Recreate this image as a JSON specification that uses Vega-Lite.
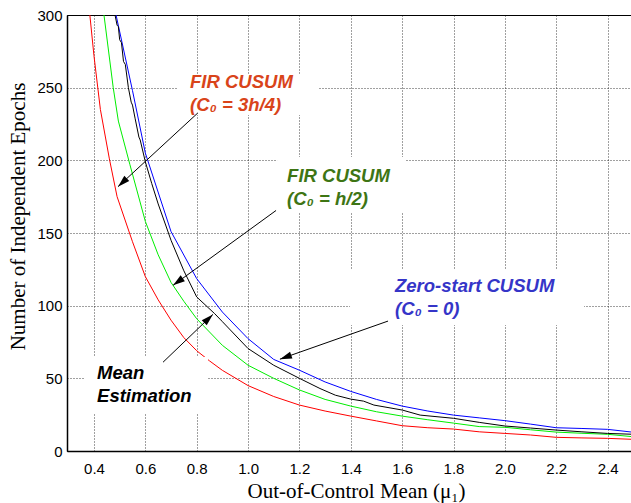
{
  "$schema": "https://vega.github.io/schema/vega-lite/v6.json",
  "autosize": {"type": "none"},
  "padding": {"left": 67, "top": 15, "right": 0, "bottom": 52},
  "width": 564,
  "height": 436,
  "background": "white",
  "config": {
    "view": {"stroke": "#000", "strokeWidth": 1},
    "axis": {
      "grid": true,
      "gridColor": "#000",
      "gridDash": [1, 2],
      "gridOpacity": 0.75,
      "gridWidth": 1,
      "domainColor": "#000",
      "domainWidth": 1.5,
      "ticks": false,
      "labelFont": "Liberation Sans",
      "labelFontSize": 15,
      "labelColor": "#000",
      "titleFont": "Liberation Serif",
      "titleFontSize": 21,
      "titleFontWeight": "normal",
      "titleColor": "#000"
    }
  },
  "datasets": {
    "curves": [
      {"mu": 0.384, "arl": 300, "s": "fir34"},
      {"mu": 0.40, "arl": 272, "s": "fir34"},
      {"mu": 0.425, "arl": 235, "s": "fir34"},
      {"mu": 0.46, "arl": 201, "s": "fir34"},
      {"mu": 0.49, "arl": 175, "s": "fir34"},
      {"mu": 0.55, "arl": 144, "s": "fir34"},
      {"mu": 0.60, "arl": 120, "s": "fir34"},
      {"mu": 0.65, "arl": 104, "s": "fir34"},
      {"mu": 0.70, "arl": 90, "s": "fir34"},
      {"mu": 0.75, "arl": 78, "s": "fir34"},
      {"mu": 0.80, "arl": 69, "s": "fir34"},
      {"mu": 0.85, "arl": 62, "s": "fir34"},
      {"mu": 0.90, "arl": 55.5, "s": "fir34"},
      {"mu": 1.0, "arl": 45, "s": "fir34"},
      {"mu": 1.1, "arl": 37.5, "s": "fir34"},
      {"mu": 1.2, "arl": 31.6, "s": "fir34"},
      {"mu": 1.3, "arl": 27.5, "s": "fir34"},
      {"mu": 1.4, "arl": 24, "s": "fir34"},
      {"mu": 1.5, "arl": 20.7, "s": "fir34"},
      {"mu": 1.6, "arl": 17.4, "s": "fir34"},
      {"mu": 1.7, "arl": 16, "s": "fir34"},
      {"mu": 1.8, "arl": 15.1, "s": "fir34"},
      {"mu": 1.9, "arl": 13.2, "s": "fir34"},
      {"mu": 2.0, "arl": 12.1, "s": "fir34"},
      {"mu": 2.1, "arl": 11, "s": "fir34"},
      {"mu": 2.2, "arl": 9.4, "s": "fir34"},
      {"mu": 2.3, "arl": 9, "s": "fir34"},
      {"mu": 2.4, "arl": 8.7, "s": "fir34"},
      {"mu": 2.5, "arl": 8, "s": "fir34"},

      {"mu": 0.439, "arl": 300, "s": "fir12"},
      {"mu": 0.475, "arl": 250, "s": "fir12"},
      {"mu": 0.495, "arl": 227, "s": "fir12"},
      {"mu": 0.54, "arl": 197, "s": "fir12"},
      {"mu": 0.60, "arl": 158, "s": "fir12"},
      {"mu": 0.65, "arl": 135, "s": "fir12"},
      {"mu": 0.70, "arl": 116, "s": "fir12"},
      {"mu": 0.75, "arl": 103, "s": "fir12"},
      {"mu": 0.80, "arl": 91, "s": "fir12"},
      {"mu": 0.90, "arl": 72.7, "s": "fir12"},
      {"mu": 1.0, "arl": 59, "s": "fir12"},
      {"mu": 1.1, "arl": 50, "s": "fir12"},
      {"mu": 1.2, "arl": 42, "s": "fir12"},
      {"mu": 1.3, "arl": 35.5, "s": "fir12"},
      {"mu": 1.4, "arl": 30.9, "s": "fir12"},
      {"mu": 1.5, "arl": 27, "s": "fir12"},
      {"mu": 1.6, "arl": 24, "s": "fir12"},
      {"mu": 1.7, "arl": 21.5, "s": "fir12"},
      {"mu": 1.8, "arl": 19.2, "s": "fir12"},
      {"mu": 1.9, "arl": 16.8, "s": "fir12"},
      {"mu": 2.0, "arl": 16.3, "s": "fir12"},
      {"mu": 2.1, "arl": 14.6, "s": "fir12"},
      {"mu": 2.2, "arl": 13, "s": "fir12"},
      {"mu": 2.3, "arl": 12.2, "s": "fir12"},
      {"mu": 2.4, "arl": 11.5, "s": "fir12"},
      {"mu": 2.5, "arl": 9.8, "s": "fir12"},

      {"mu": 0.486, "arl": 300, "s": "zero"},
      {"mu": 0.55, "arl": 248, "s": "zero"},
      {"mu": 0.60, "arl": 205, "s": "zero"},
      {"mu": 0.70, "arl": 151, "s": "zero"},
      {"mu": 0.80, "arl": 118.6, "s": "zero"},
      {"mu": 0.90, "arl": 95.6, "s": "zero"},
      {"mu": 1.0, "arl": 77.3, "s": "zero"},
      {"mu": 1.1, "arl": 63, "s": "zero"},
      {"mu": 1.2, "arl": 55.6, "s": "zero"},
      {"mu": 1.3, "arl": 47.5, "s": "zero"},
      {"mu": 1.4, "arl": 41, "s": "zero"},
      {"mu": 1.5, "arl": 35.5, "s": "zero"},
      {"mu": 1.6, "arl": 30.9, "s": "zero"},
      {"mu": 1.7, "arl": 27.5, "s": "zero"},
      {"mu": 1.8, "arl": 24.7, "s": "zero"},
      {"mu": 1.9, "arl": 22.8, "s": "zero"},
      {"mu": 2.0, "arl": 20.9, "s": "zero"},
      {"mu": 2.1, "arl": 18.5, "s": "zero"},
      {"mu": 2.2, "arl": 16, "s": "zero"},
      {"mu": 2.3, "arl": 15.5, "s": "zero"},
      {"mu": 2.4, "arl": 14.9, "s": "zero"},
      {"mu": 2.5, "arl": 12.9, "s": "zero"},

      {"mu": 0.482, "arl": 300, "s": "mean"},
      {"mu": 0.49, "arl": 293, "s": "mean"},
      {"mu": 0.495, "arl": 292, "s": "mean"},
      {"mu": 0.50, "arl": 283, "s": "mean"},
      {"mu": 0.507, "arl": 281, "s": "mean"},
      {"mu": 0.515, "arl": 268, "s": "mean"},
      {"mu": 0.522, "arl": 266, "s": "mean"},
      {"mu": 0.534, "arl": 250, "s": "mean"},
      {"mu": 0.545, "arl": 240, "s": "mean"},
      {"mu": 0.55, "arl": 238, "s": "mean"},
      {"mu": 0.56, "arl": 229, "s": "mean"},
      {"mu": 0.575, "arl": 216, "s": "mean"},
      {"mu": 0.58, "arl": 214, "s": "mean"},
      {"mu": 0.60, "arl": 199, "s": "mean"},
      {"mu": 0.625, "arl": 184, "s": "mean"},
      {"mu": 0.65, "arl": 170, "s": "mean"},
      {"mu": 0.70, "arl": 145, "s": "mean"},
      {"mu": 0.75, "arl": 124, "s": "mean"},
      {"mu": 0.80, "arl": 106, "s": "mean"},
      {"mu": 0.87, "arl": 94.5, "s": "mean"},
      {"mu": 0.90, "arl": 89, "s": "mean"},
      {"mu": 1.0, "arl": 70.5, "s": "mean"},
      {"mu": 1.1, "arl": 59, "s": "mean"},
      {"mu": 1.2, "arl": 50, "s": "mean"},
      {"mu": 1.28, "arl": 43, "s": "mean"},
      {"mu": 1.34, "arl": 38.4, "s": "mean"},
      {"mu": 1.4, "arl": 35.7, "s": "mean"},
      {"mu": 1.45, "arl": 34.3, "s": "mean"},
      {"mu": 1.49, "arl": 31.6, "s": "mean"},
      {"mu": 1.6, "arl": 28.2, "s": "mean"},
      {"mu": 1.67, "arl": 24.7, "s": "mean"},
      {"mu": 1.8, "arl": 22.5, "s": "mean"},
      {"mu": 1.9, "arl": 19.7, "s": "mean"},
      {"mu": 2.0, "arl": 17.2, "s": "mean"},
      {"mu": 2.1, "arl": 15.8, "s": "mean"},
      {"mu": 2.2, "arl": 14.4, "s": "mean"},
      {"mu": 2.3, "arl": 13.2, "s": "mean"},
      {"mu": 2.4, "arl": 12.1, "s": "mean"},
      {"mu": 2.5, "arl": 11.5, "s": "mean"}
    ],
    "notes": [
      {"note": "fir34", "label": "FIR CUSUM\n(C₀ = 3h/4)", "tx": 0.774, "ty": 249.8, "bx1": 0.727, "bx2": 1.276, "by1": 231.2, "by2": 258.7, "ax1": 0.805, "ay1": 232.7, "ax2": 0.4936, "ay2": 181.9},
      {"note": "fir12", "label": "FIR CUSUM\n(C₀ = h/2)", "tx": 1.152, "ty": 185.1, "bx1": 1.113, "bx2": 1.611, "by1": 163.8, "by2": 202.3, "ax1": 1.109, "ay1": 165.5, "ax2": 0.708, "ay2": 114},
      {"note": "zero", "label": "Zero-start CUSUM\n(C₀ = 0)", "tx": 1.572, "ty": 109.4, "bx1": 1.397, "bx2": 2.308, "by1": 86.7, "by2": 124.5, "ax1": 1.545, "ay1": 89.4, "ax2": 1.124, "ay2": 63.2},
      {"note": "mean", "label": "Mean\nEstimation", "tx": 0.412, "ty": 49.5, "bx1": 0.365, "bx2": 0.844, "by1": 26.1, "by2": 64.7, "ax1": 0.669, "ay1": 61.1, "ax2": 0.863, "ay2": 94}
    ]
  },
  "layer": [
    {
      "data": {"name": "curves"},
      "mark": {"type": "line", "strokeWidth": 1, "clip": true},
      "encoding": {
        "x": {"field": "mu", "type": "quantitative", "scale": {"domain": [0.295, 2.491], "nice": false, "zero": false},
              "axis": {"values": [0.4, 0.6, 0.8, 1, 1.2, 1.4, 1.6, 1.8, 2, 2.2, 2.4], "labelPadding": 10, "title": "Out-of-Control Mean (μ₁)", "titleX": 289, "titleY": 46, "titleBaseline": "alphabetic"}},
        "y": {"field": "arl", "type": "quantitative", "scale": {"domain": [0, 300], "nice": false},
              "axis": {"values": [0, 50, 100, 150, 200, 250, 300], "labelPadding": 5, "title": "Number of Independent Epochs", "titleX": -43, "titleY": 201, "titleBaseline": "alphabetic"}},
        "stroke": {"field": "s", "type": "nominal", "scale": {"domain": ["fir34", "fir12", "zero", "mean"], "range": ["#ff0000", "#00ee00", "#0000ff", "#000000"]}, "legend": null},
        "order": {"field": "mu", "type": "quantitative"}
      }
    },
    {
      "data": {"name": "notes"},
      "mark": {"type": "rect", "fill": "white", "stroke": null},
      "encoding": {
        "x": {"field": "bx1", "type": "quantitative"},
        "x2": {"field": "bx2"},
        "y": {"field": "by1", "type": "quantitative"},
        "y2": {"field": "by2"}
      }
    },
    {
      "data": {"name": "notes"},
      "mark": {"type": "rule", "color": "#000", "strokeWidth": 1},
      "encoding": {
        "x": {"field": "ax1", "type": "quantitative"},
        "x2": {"field": "ax2"},
        "y": {"field": "ay1", "type": "quantitative"},
        "y2": {"field": "ay2"}
      }
    },
    {
      "data": {"name": "notes"},
      "transform": [{"filter": "datum.note === 'fir34'"}],
      "mark": {"type": "point", "shape": "M0,0L-0.6,2L0.6,2Z", "size": 144, "filled": true, "color": "#000", "opacity": 1, "strokeWidth": 0, "angle": 227},
      "encoding": {"x": {"field": "ax2", "type": "quantitative"}, "y": {"field": "ay2", "type": "quantitative"}}
    },
    {
      "data": {"name": "notes"},
      "transform": [{"filter": "datum.note === 'fir12'"}],
      "mark": {"type": "point", "shape": "M0,0L-0.6,2L0.6,2Z", "size": 144, "filled": true, "color": "#000", "opacity": 1, "strokeWidth": 0, "angle": 234},
      "encoding": {"x": {"field": "ax2", "type": "quantitative"}, "y": {"field": "ay2", "type": "quantitative"}}
    },
    {
      "data": {"name": "notes"},
      "transform": [{"filter": "datum.note === 'zero'"}],
      "mark": {"type": "point", "shape": "M0,0L-0.6,2L0.6,2Z", "size": 144, "filled": true, "color": "#000", "opacity": 1, "strokeWidth": 0, "angle": 250.6},
      "encoding": {"x": {"field": "ax2", "type": "quantitative"}, "y": {"field": "ay2", "type": "quantitative"}}
    },
    {
      "data": {"name": "notes"},
      "transform": [{"filter": "datum.note === 'mean'"}],
      "mark": {"type": "point", "shape": "M0,0L-0.6,2L0.6,2Z", "size": 144, "filled": true, "color": "#000", "opacity": 1, "strokeWidth": 0, "angle": 46},
      "encoding": {"x": {"field": "ax2", "type": "quantitative"}, "y": {"field": "ay2", "type": "quantitative"}}
    },
    {
      "data": {"name": "notes"},
      "mark": {"type": "text", "align": "left", "baseline": "alphabetic", "lineBreak": "\n", "lineHeight": 23, "font": "Liberation Sans", "fontSize": 18.5, "fontWeight": "bold", "fontStyle": "italic"},
      "encoding": {
        "x": {"field": "tx", "type": "quantitative"},
        "y": {"field": "ty", "type": "quantitative"},
        "text": {"field": "label"},
        "fill": {"field": "note", "type": "nominal", "scale": {"domain": ["fir34", "fir12", "zero", "mean"], "range": ["#d9441a", "#3e7514", "#3535c8", "#000000"]}, "legend": null}
      }
    }
  ]
}
